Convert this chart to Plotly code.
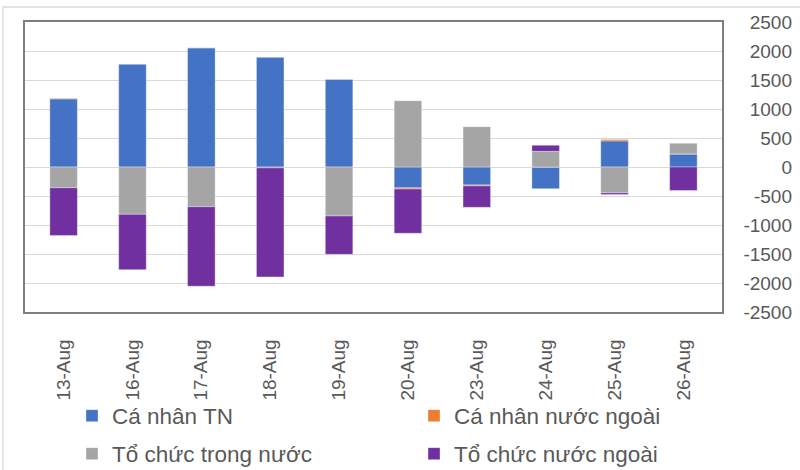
import plotly.graph_objects as go

categories = ["13-Aug", "16-Aug", "17-Aug", "18-Aug", "19-Aug",
              "20-Aug", "23-Aug", "24-Aug", "25-Aug", "26-Aug"]
ca_nhan_tn = [1175, 1775, 2055, 1895, 1515, -360, -310, -375, 450, 225]
ca_nhan_nn = [10, 0, 0, 0, 0, -20, -15, 0, 25, 0]
to_chuc_tn = [-357, -815, -685, -15, -845, 1143, 695, 270, -445, 185]
to_chuc_nn = [-826, -955, -1370, -1880, -660, -763, -370, 105, -30, -405]

series_names = ["Cá nhân TN", "Cá nhân nước ngoài", "Tổ chức trong nước", "Tổ chức nước ngoài"]
series_values = [ca_nhan_tn, ca_nhan_nn, to_chuc_tn, to_chuc_nn]
colors = ["#4472C4", "#ED7D31", "#A5A5A5", "#7030A0"]
legend_ids = ["legend", "legend", "legend2", "legend2"]

tick_vals = [2500, 2000, 1500, 1000, 500, 0, -500, -1000, -1500, -2000, -2500]
tick_text = ["2500", "2000", "1500", "1000", "500", "0", "-500", "-1000", "-1500", "-2000", "-2500"]

W, H = 800, 470
ML, MR, MT, MB = 25, 5, 22, 158
plot_right = 722
paper_w = W - ML - MR
paper_h = H - MT - MB
x_dom_end = (plot_right - ML) / paper_w

FONT = "Liberation Sans, Arial, sans-serif"
TXT = "#595959"

fig = go.Figure()
for name, vals, col, lg in zip(series_names, series_values, colors, legend_ids):
    fig.add_trace(go.Bar(
        x=categories, y=vals, name=name, legend=lg,
        marker=dict(color=col, line=dict(color="rgba(255,255,255,0.6)", width=0.6)),
    ))

# invisible trace to carry the label axis
fig.add_trace(go.Scatter(x=categories, y=[0] * len(categories), yaxis="y2",
                         mode="markers", marker=dict(opacity=0), showlegend=False,
                         hoverinfo="skip"))

def px_to_px_x(px):
    return (px - ML) / paper_w

def px_to_py(py):
    return (H - MB - py) / paper_h

fig.update_layout(
    width=W, height=H,
    margin=dict(l=ML, r=MR, t=MT, b=MB, autoexpand=False),
    barmode="relative",
    bargap=0.6,
    plot_bgcolor="white",
    paper_bgcolor="white",
    font=dict(family=FONT, color=TXT),
    xaxis=dict(
        domain=[0, x_dom_end],
        type="category",
        tickangle=-90,
        ticks="",
        tickfont=dict(size=19, color=TXT, family=FONT),
        showline=True, mirror=True, linecolor="#7F7F7F", linewidth=1.5,
        showgrid=False,
        ticklabelstandoff=18,
        automargin=False,
    ),
    yaxis=dict(
        range=[-2500, 2500],
        tickvals=tick_vals,
        showticklabels=False,
        ticks="",
        showgrid=True, gridcolor="#D9D9D9", gridwidth=1.3,
        zeroline=False,
        showline=True, mirror=True, linecolor="#7F7F7F", linewidth=1.5,
        automargin=False,
    ),
    yaxis2=dict(
        overlaying="y",
        anchor="free",
        side="left",
        position=min(1.0, px_to_px_x(792)),
        range=[-2500, 2500],
        tickvals=tick_vals,
        ticktext=tick_text,
        ticks="",
        showgrid=False, zeroline=False, showline=False,
        tickfont=dict(size=19, color=TXT, family=FONT),
        automargin=False,
    ),
    legend=dict(
        orientation="h", xref="container", yref="container",
        x=72 / W, y=1 - 416 / H, xanchor="left", yanchor="middle",
        entrywidth=297, font=dict(size=22.5, color=TXT, family=FONT),
        bgcolor="rgba(0,0,0,0)", borderwidth=0,
    ),
    legend2=dict(
        orientation="h", xref="container", yref="container",
        x=72 / W, y=1 - 454 / H, xanchor="left", yanchor="middle",
        entrywidth=297, font=dict(size=22.5, color=TXT, family=FONT),
        bgcolor="rgba(0,0,0,0)", borderwidth=0,
    ),
    shapes=[dict(
        type="rect", xref="paper", yref="paper",
        x0=px_to_px_x(3), x1=px_to_px_x(830),
        y0=px_to_py(7), y1=px_to_py(520),
        line=dict(color="#D9D9D9", width=1.3), fillcolor="rgba(0,0,0,0)",
        layer="below",
    )],
)

fig.write_html("out.html", config={"displayModeBar": False},
               post_script="document.body.style.margin='0';")
